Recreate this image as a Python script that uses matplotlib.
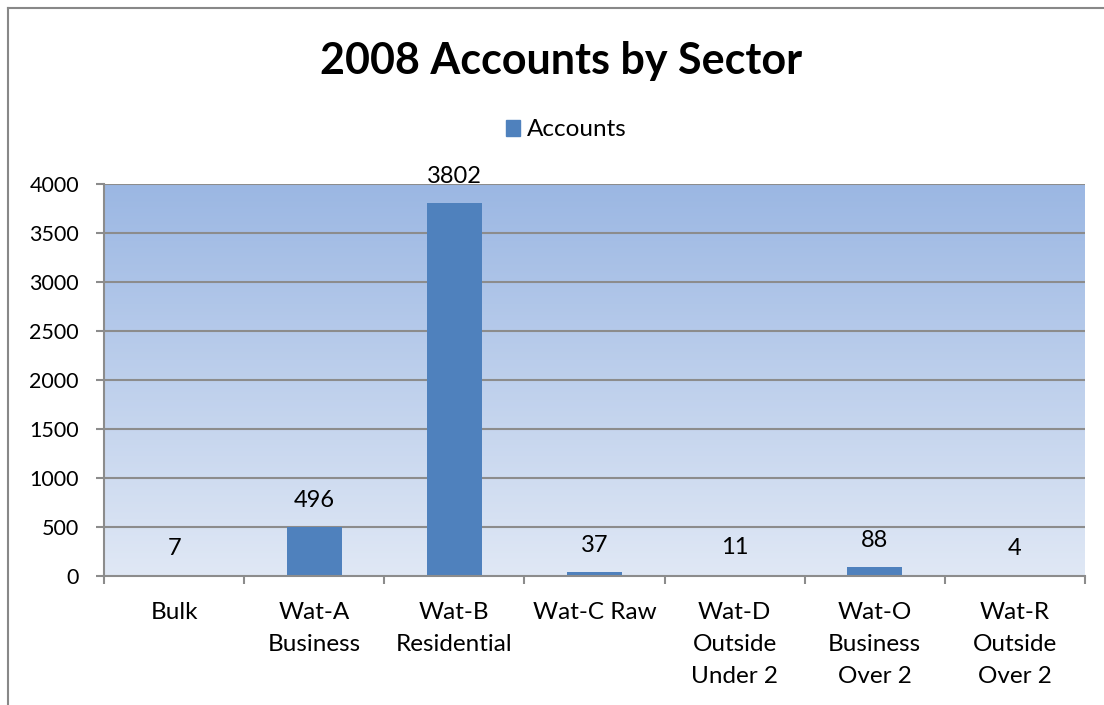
import matplotlib.pyplot as plt
import matplotlib.colors as mcolors
import numpy as np
from matplotlib.lines import Line2D

plt.rcParams['font.family'] = ['Lato', 'DejaVu Sans']

sectors = ["Bulk", "Wat-A\nBusiness", "Wat-B\nResidential", "Wat-C Raw",
           "Wat-D\nOutside\nUnder 2", "Wat-O\nBusiness\nOver 2", "Wat-R\nOutside\nOver 2"]
accounts = [7, 496, 3802, 37, 11, 88, 4]
y_ticks = [0, 500, 1000, 1500, 2000, 2500, 3000, 3500, 4000]

W, H = 1104, 705
fig = plt.figure(figsize=(W / 100, H / 100), dpi=100)

# chart frame (top and left edges)
fig.add_artist(Line2D([8 / W, 1], [1 - 8 / H, 1 - 8 / H], color='#888888', lw=1.5))
fig.add_artist(Line2D([8 / W, 8 / W], [0, 1 - 8 / H], color='#888888', lw=1.5))

ax = fig.add_axes([104 / W, 1 - 576 / H, (1085 - 104) / W, (576 - 184) / H])

n = len(sectors)
x = np.arange(n)
ax.set_xlim(-0.5, n - 0.5)
ax.set_ylim(0, 4000)

# vertical gradient background
cmap = mcolors.LinearSegmentedColormap.from_list('bg', ['#e0e8f5', '#9bb7e3'])
grad = np.linspace(0, 1, 256).reshape(-1, 1)
ax.imshow(grad, cmap=cmap, aspect='auto', origin='lower',
          extent=[-0.5, n - 0.5, 0, 4000], zorder=0)

for t in y_ticks[1:]:
    ax.axhline(t, color='#8c8c8c', lw=1.5, zorder=1)

bars = ax.bar(x, accounts, width=0.39, color='#4f81bd', zorder=2)
for xi, v in zip(x, accounts):
    ax.annotate(str(v), (xi, v), xytext=(0, 27), textcoords='offset pixels',
                ha='center', va='center', fontsize=17, color='black')

for side in ['top', 'right']:
    ax.spines[side].set_visible(False)
ax.spines['left'].set_color('#8c8c8c')
ax.spines['bottom'].set_color('#8c8c8c')
ax.spines['left'].set_linewidth(1.5)
ax.spines['bottom'].set_linewidth(1.5)
ax.spines['left'].set_zorder(3)

ax.set_yticks(y_ticks)
ax.set_yticklabels([str(t) for t in y_ticks], fontsize=15.5)
ax.tick_params(axis='y', length=6, width=1.5, color='#8c8c8c', pad=12)

# category ticks sit on the boundaries between sectors
ax.set_xticks(np.arange(-0.5, n, 1.0))
ax.set_xticklabels([])
ax.tick_params(axis='x', length=6, width=1.5, color='#8c8c8c')
for xi, s in zip(x, sectors):
    ax.text(xi, -0.067, s, transform=ax.get_xaxis_transform(), ha='center', va='top',
            fontsize=17.5, linespacing=1.63)

fig.text(561 / W, 1 - 61 / H, "2008 Accounts by Sector", ha='center', va='center',
         fontsize=31, fontweight='bold')
handle = plt.Rectangle((0, 0), 1, 1, color='#4f81bd')
fig.legend([handle], ["Accounts"], loc='center', bbox_to_anchor=(566 / W, 1 - 130 / H),
           frameon=False, fontsize=17.5, handlelength=0.6, handleheight=0.6,
           handletextpad=0.25)

fig.savefig('out.png', dpi=100)
